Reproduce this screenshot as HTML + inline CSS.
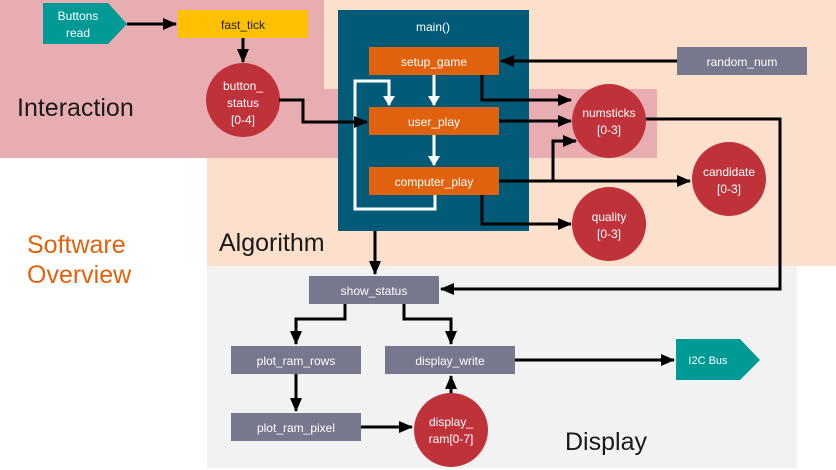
<!DOCTYPE html>
<html><head><meta charset="utf-8"><style>
html,body{margin:0;padding:0;background:#fff}
svg{display:block}
text{font-family:"Liberation Sans",sans-serif}
</style></head><body>
<svg width="836" height="470" viewBox="0 0 836 470" xmlns="http://www.w3.org/2000/svg">
<defs>
<marker id="w" markerWidth="10" markerHeight="12" refX="9" refY="6" orient="auto" markerUnits="userSpaceOnUse"><path d="M0,0 L10,6 L0,12 z" fill="#fff"/></marker>
<marker id="b" markerWidth="14" markerHeight="12" refX="13" refY="6" orient="auto" markerUnits="userSpaceOnUse"><path d="M0,0 L14,6 L0,12 z" fill="#000"/></marker>
</defs>
<rect x="324" y="0" width="512" height="266" fill="#fce0cc"/>
<rect x="207" y="88" width="629" height="178" fill="#fce0cc"/>
<rect x="0" y="0" width="324" height="158" fill="#e8adb0"/>
<rect x="0" y="89" width="657" height="69" fill="#e8adb0"/>
<rect x="207" y="266" width="590" height="202" fill="#f2f2f2"/>
<rect x="338" y="10" width="191" height="221" fill="#005a78"/>
<text x="433" y="31" font-size="12" fill="#fff" text-anchor="middle">main()</text>
<g fill="#e0620e"><rect x="369" y="47" width="130" height="28"/><rect x="369" y="107" width="130" height="28"/><rect x="369" y="167" width="130" height="28"/></g>
<g font-size="12" fill="#fff" text-anchor="middle">
<text x="434" y="66">setup_game</text><text x="434" y="126">user_play</text><text x="434" y="186">computer_play</text></g>
<g stroke="#fff" stroke-width="3" fill="none">
<line x1="434" y1="75" x2="434" y2="105" marker-end="url(#w)"/>
<line x1="434" y1="135" x2="434" y2="165" marker-end="url(#w)"/>
<path d="M435,195 V209 H355 V81 H389 V105" marker-end="url(#w)"/>
</g>
<path d="M43,3 H108 L127,24 L108,44 H43 z" fill="#009a96"/>
<text x="78" y="20" font-size="12" fill="#fff" text-anchor="middle">Buttons</text>
<text x="78" y="37" font-size="12" fill="#fff" text-anchor="middle">read</text>
<rect x="178" y="10" width="130" height="28" fill="#ffc000"/>
<text x="243" y="29" font-size="12" fill="#222" text-anchor="middle">fast_tick</text>
<g fill="#c0323a"><circle cx="243" cy="100" r="37"/><circle cx="609" cy="121" r="37"/><circle cx="729" cy="179" r="37"/><circle cx="609" cy="224" r="37"/><circle cx="451" cy="430" r="37"/></g>
<g font-size="12" fill="#fff" text-anchor="middle">
<text x="243" y="90">button_</text><text x="243" y="107">status</text><text x="243" y="124">[0-4]</text>
<text x="609" y="117">numsticks</text><text x="609" y="134">[0-3]</text>
<text x="729" y="176">candidate</text><text x="729" y="193">[0-3]</text>
<text x="609" y="221">quality</text><text x="609" y="238">[0-3]</text>
<text x="451" y="426">display_</text><text x="451" y="443">ram[0-7]</text>
</g>
<g fill="#77788e"><rect x="677" y="47" width="130" height="28"/><rect x="309" y="276" width="130" height="28"/><rect x="231" y="346" width="130" height="28"/><rect x="385" y="346" width="130" height="28"/><rect x="231" y="413" width="130" height="28"/></g>
<g font-size="12" fill="#fff" text-anchor="middle">
<text x="742" y="66">random_num</text><text x="374" y="295">show_status</text><text x="296" y="365">plot_ram_rows</text><text x="450" y="365">display_write</text><text x="296" y="432">plot_ram_pixel</text></g>
<path d="M676,339 H740 L760,360 L740,380 H676 z" fill="#009a96"/>
<text x="708" y="364" font-size="11" fill="#fff" text-anchor="middle">I2C Bus</text>
<g stroke="#000" stroke-width="3" fill="none">
<line x1="127" y1="24" x2="176" y2="24" marker-end="url(#b)"/>
<line x1="243" y1="38" x2="243" y2="62" marker-end="url(#b)"/>
<path d="M279,100 H303 V122 H367" marker-end="url(#b)"/>
<line x1="677" y1="61" x2="501" y2="61" marker-end="url(#b)"/>
<path d="M482,75 V100 H571" marker-end="url(#b)"/>
<line x1="499" y1="121" x2="571" y2="121" marker-end="url(#b)"/>
<line x1="499" y1="181" x2="690" y2="181" marker-end="url(#b)"/>
<path d="M553,181 V141 H576" marker-end="url(#b)"/>
<path d="M482,195 V224 H571" marker-end="url(#b)"/>
<path d="M646,119 H780 V289 H441" marker-end="url(#b)"/>
<line x1="375" y1="231" x2="375" y2="274" marker-end="url(#b)"/>
<path d="M345,304 V319 H296 V344" marker-end="url(#b)"/>
<path d="M404,304 V319 H451 V344" marker-end="url(#b)"/>
<line x1="296" y1="374" x2="296" y2="411" marker-end="url(#b)"/>
<line x1="361" y1="427" x2="412" y2="427" marker-end="url(#b)"/>
<line x1="451" y1="393" x2="451" y2="376" marker-end="url(#b)"/>
<line x1="515" y1="360" x2="674" y2="360" marker-end="url(#b)"/>
</g>
<g font-size="25" fill="#1a1a1a">
<text x="17" y="116">Interaction</text>
<text x="219" y="251">Algorithm</text>
<text x="565" y="450">Display</text>
</g>
<g font-size="25" fill="#e0620e">
<text x="27" y="253">Software</text>
<text x="27" y="283">Overview</text>
</g>
</svg>
</body></html>
